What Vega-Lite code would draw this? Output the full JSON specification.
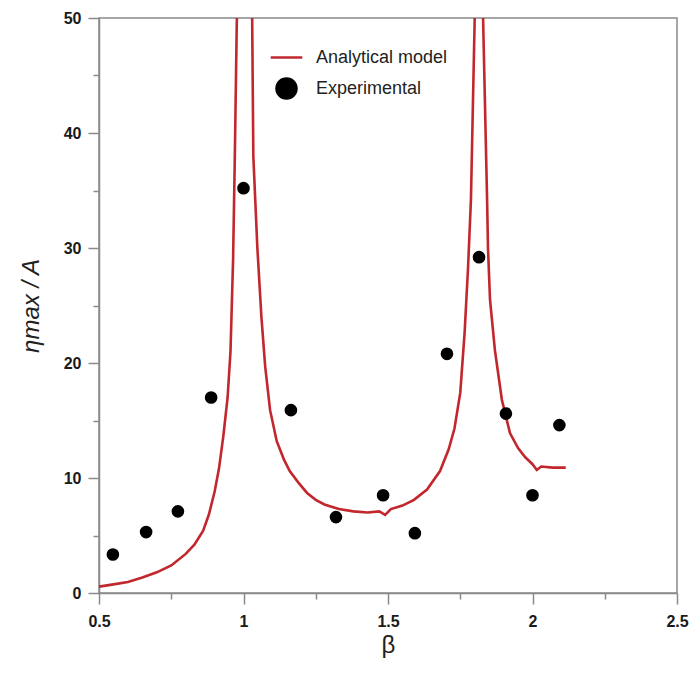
{
  "$schema": "https://vega.github.io/schema/vega-lite/v6.json",
  "width": 578,
  "height": 575,
  "autosize": "none",
  "padding": {"left": 99, "top": 18, "right": 14, "bottom": 82},
  "background": "white",
  "config": {
    "view": {"stroke": "#8a8a8a", "strokeWidth": 1.5},
    "font": "Liberation Sans"
  },
  "datasets": {
    "model": [
      {"beta": 0.5, "eta": 0.55, "series": "Analytical model"},
      {"beta": 0.55, "eta": 0.75, "series": "Analytical model"},
      {"beta": 0.6, "eta": 0.95, "series": "Analytical model"},
      {"beta": 0.65, "eta": 1.35, "series": "Analytical model"},
      {"beta": 0.7, "eta": 1.8, "series": "Analytical model"},
      {"beta": 0.75, "eta": 2.4, "series": "Analytical model"},
      {"beta": 0.8, "eta": 3.4, "series": "Analytical model"},
      {"beta": 0.83, "eta": 4.2, "series": "Analytical model"},
      {"beta": 0.86, "eta": 5.4, "series": "Analytical model"},
      {"beta": 0.88, "eta": 6.8, "series": "Analytical model"},
      {"beta": 0.9, "eta": 8.8, "series": "Analytical model"},
      {"beta": 0.915, "eta": 10.8, "series": "Analytical model"},
      {"beta": 0.93, "eta": 13.6, "series": "Analytical model"},
      {"beta": 0.945, "eta": 17, "series": "Analytical model"},
      {"beta": 0.955, "eta": 21, "series": "Analytical model"},
      {"beta": 0.964, "eta": 29, "series": "Analytical model"},
      {"beta": 0.97, "eta": 38, "series": "Analytical model"},
      {"beta": 0.977, "eta": 50, "series": "Analytical model"},
      {"beta": 0.99, "eta": 120, "series": "Analytical model"},
      {"beta": 1.015, "eta": 120, "series": "Analytical model"},
      {"beta": 1.03, "eta": 50, "series": "Analytical model"},
      {"beta": 1.034, "eta": 38, "series": "Analytical model"},
      {"beta": 1.048, "eta": 30, "series": "Analytical model"},
      {"beta": 1.062, "eta": 24, "series": "Analytical model"},
      {"beta": 1.075, "eta": 19.7, "series": "Analytical model"},
      {"beta": 1.092, "eta": 15.9, "series": "Analytical model"},
      {"beta": 1.115, "eta": 13.2, "series": "Analytical model"},
      {"beta": 1.14, "eta": 11.6, "series": "Analytical model"},
      {"beta": 1.16, "eta": 10.6, "series": "Analytical model"},
      {"beta": 1.19, "eta": 9.6, "series": "Analytical model"},
      {"beta": 1.22, "eta": 8.7, "series": "Analytical model"},
      {"beta": 1.25, "eta": 8.1, "series": "Analytical model"},
      {"beta": 1.28, "eta": 7.7, "series": "Analytical model"},
      {"beta": 1.33, "eta": 7.3, "series": "Analytical model"},
      {"beta": 1.38, "eta": 7.1, "series": "Analytical model"},
      {"beta": 1.43, "eta": 7.0, "series": "Analytical model"},
      {"beta": 1.47, "eta": 7.1, "series": "Analytical model"},
      {"beta": 1.49, "eta": 6.8, "series": "Analytical model"},
      {"beta": 1.51, "eta": 7.3, "series": "Analytical model"},
      {"beta": 1.55, "eta": 7.6, "series": "Analytical model"},
      {"beta": 1.59, "eta": 8.1, "series": "Analytical model"},
      {"beta": 1.635, "eta": 9.0, "series": "Analytical model"},
      {"beta": 1.68, "eta": 10.6, "series": "Analytical model"},
      {"beta": 1.71, "eta": 12.5, "series": "Analytical model"},
      {"beta": 1.73, "eta": 14.3, "series": "Analytical model"},
      {"beta": 1.75, "eta": 17.4, "series": "Analytical model"},
      {"beta": 1.765, "eta": 22.6, "series": "Analytical model"},
      {"beta": 1.777, "eta": 28.3, "series": "Analytical model"},
      {"beta": 1.787, "eta": 34.2, "series": "Analytical model"},
      {"beta": 1.8, "eta": 50, "series": "Analytical model"},
      {"beta": 1.81, "eta": 120, "series": "Analytical model"},
      {"beta": 1.825, "eta": 120, "series": "Analytical model"},
      {"beta": 1.829, "eta": 50, "series": "Analytical model"},
      {"beta": 1.843, "eta": 34, "series": "Analytical model"},
      {"beta": 1.846, "eta": 30, "series": "Analytical model"},
      {"beta": 1.853, "eta": 25.5, "series": "Analytical model"},
      {"beta": 1.87, "eta": 21.1, "series": "Analytical model"},
      {"beta": 1.894, "eta": 16.8, "series": "Analytical model"},
      {"beta": 1.922, "eta": 13.9, "series": "Analytical model"},
      {"beta": 1.95, "eta": 12.6, "series": "Analytical model"},
      {"beta": 1.975, "eta": 11.8, "series": "Analytical model"},
      {"beta": 2.0, "eta": 11.2, "series": "Analytical model"},
      {"beta": 2.015, "eta": 10.7, "series": "Analytical model"},
      {"beta": 2.03, "eta": 11.0, "series": "Analytical model"},
      {"beta": 2.07, "eta": 10.9, "series": "Analytical model"},
      {"beta": 2.115, "eta": 10.9, "series": "Analytical model"}
    ],
    "experiment": [
      {"beta": 0.548, "eta": 3.35, "series": "Experimental"},
      {"beta": 0.663, "eta": 5.3, "series": "Experimental"},
      {"beta": 0.773, "eta": 7.1, "series": "Experimental"},
      {"beta": 0.888, "eta": 17.0, "series": "Experimental"},
      {"beta": 1.0, "eta": 35.2, "series": "Experimental"},
      {"beta": 1.164, "eta": 15.9, "series": "Experimental"},
      {"beta": 1.32, "eta": 6.6, "series": "Experimental"},
      {"beta": 1.483, "eta": 8.5, "series": "Experimental"},
      {"beta": 1.593, "eta": 5.2, "series": "Experimental"},
      {"beta": 1.704, "eta": 20.8, "series": "Experimental"},
      {"beta": 1.815, "eta": 29.2, "series": "Experimental"},
      {"beta": 1.908, "eta": 15.6, "series": "Experimental"},
      {"beta": 2.0, "eta": 8.5, "series": "Experimental"},
      {"beta": 2.093, "eta": 14.6, "series": "Experimental"}
    ]
  },
  "encoding": {
    "x": {
      "field": "beta",
      "type": "quantitative",
      "scale": {"domain": [0.5, 2.5], "nice": false, "zero": false},
      "axis": {
        "title": "β",
        "titleFont": "Liberation Sans",
        "titleFontSize": 24,
        "titleFontWeight": "normal",
        "titleColor": "#222",
        "titlePadding": 4,
        "values": [0.5, 0.75, 1, 1.25, 1.5, 1.75, 2, 2.25, 2.5],
        "format": "~g",
        "labelExpr": "abs(datum.value*2 - round(datum.value*2)) < 0.01 ? datum.label : ''",
        "labelFont": "Liberation Sans",
        "labelFontSize": 16,
        "labelFontWeight": "bold",
        "labelColor": "#1a1a1a",
        "labelPadding": 9,
        "labelFlush": false,
        "grid": false,
        "domainColor": "#8a8a8a",
        "domainWidth": 1.5,
        "tickColor": "#8a8a8a",
        "tickWidth": 1.5,
        "tickSize": {"condition": {"test": "abs(datum.value*2 - round(datum.value*2)) < 0.01", "value": 11}, "value": 6}
      }
    },
    "y": {
      "field": "eta",
      "type": "quantitative",
      "scale": {"domain": [0, 50], "nice": false},
      "axis": {
        "title": "ηmax / A",
        "titleFont": "Liberation Sans",
        "titleFontSize": 24,
        "titleFontWeight": "normal",
        "titleFontStyle": "italic",
        "titleColor": "#222",
        "titlePadding": 20,
        "values": [0, 5, 10, 15, 20, 25, 30, 35, 40, 45, 50],
        "labelExpr": "datum.value % 10 === 0 ? datum.label : ''",
        "labelFont": "Liberation Sans",
        "labelFontSize": 16,
        "labelFontWeight": "bold",
        "labelColor": "#1a1a1a",
        "labelPadding": 7,
        "labelFlush": false,
        "grid": false,
        "domainColor": "#8a8a8a",
        "domainWidth": 1.5,
        "tickColor": "#8a8a8a",
        "tickWidth": 1.5,
        "tickSize": {"condition": {"test": "datum.value % 10 === 0", "value": 11}, "value": 6}
      }
    },
    "color": {
      "field": "series",
      "type": "nominal",
      "scale": {"domain": ["Analytical model", "Experimental"], "range": ["#c1272d", "#000000"]},
      "legend": {
        "title": null,
        "orient": "none",
        "legendX": 170,
        "legendY": 22,
        "labelFont": "Liberation Sans",
        "labelFontSize": 18,
        "labelColor": "#222",
        "symbolSize": 1000,
        "symbolStrokeWidth": 2.5,
        "rowPadding": 4,
        "labelOffset": 12,
        "encode": {"symbols": {"update": {"size": {"signal": "datum.value === 'Experimental' ? 400 : 1000"}}}}
      }
    },
    "shape": {
      "field": "series",
      "type": "nominal",
      "scale": {"domain": ["Analytical model", "Experimental"], "range": ["stroke", "circle"]},
      "legend": {
        "title": null,
        "orient": "none",
        "legendX": 170,
        "legendY": 22,
        "labelFont": "Liberation Sans",
        "labelFontSize": 18,
        "labelColor": "#222",
        "symbolSize": 1000,
        "symbolStrokeWidth": 2.5,
        "rowPadding": 4,
        "labelOffset": 12,
        "encode": {"symbols": {"update": {"size": {"signal": "datum.value === 'Experimental' ? 400 : 1000"}}}}
      }
    }
  },
  "layer": [
    {
      "data": {"name": "model"},
      "mark": {"type": "line", "clip": true, "strokeWidth": 2.6},
      "encoding": {"shape": {"value": "stroke"}}
    },
    {
      "data": {"name": "experiment"},
      "mark": {"type": "point", "filled": true, "opacity": 1, "size": 160}
    }
  ]
}
